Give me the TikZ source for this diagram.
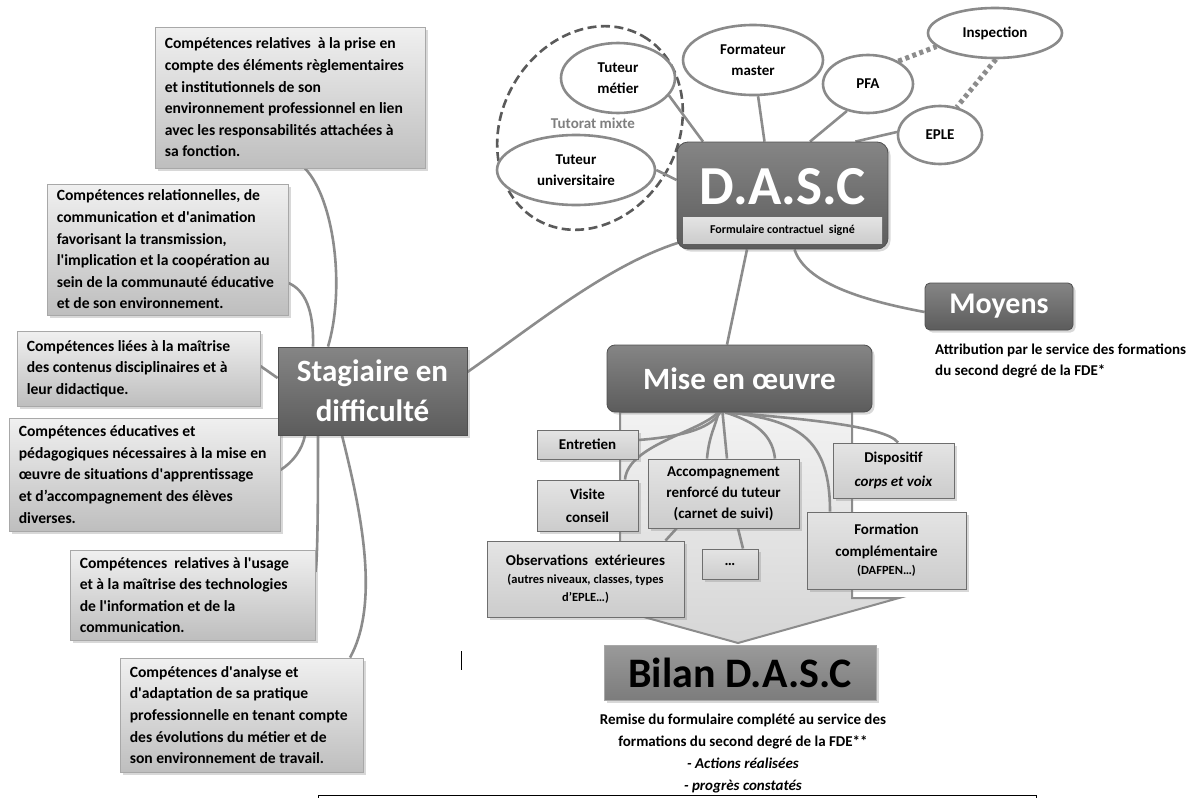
\documentclass[tikz,border=0pt]{standalone}
\usepackage{fontspec}
\setmainfont{Carlito}
\usetikzlibrary{shapes.geometric,shadows}
\definecolor{lnc}{HTML}{8C8C8C}
\definecolor{elc}{HTML}{8A8A8A}
\definecolor{ltop}{HTML}{F0F0F0}
\definecolor{lbot}{HTML}{BEBEBE}
\definecolor{boxb}{HTML}{A8A8A8}
\definecolor{dtop}{HTML}{858585}
\definecolor{dbot}{HTML}{5C5C5C}
\definecolor{dbd}{HTML}{505050}
\definecolor{stop}{HTML}{E4E4E4}
\definecolor{sbot}{HTML}{CCCCCC}
\definecolor{sbd}{HTML}{6E6E6E}
\definecolor{atop}{HTML}{F2F2F2}
\definecolor{abot}{HTML}{D6D6D6}
\definecolor{tmx}{HTML}{7F7F7F}
\definecolor{btop}{HTML}{9A9A9A}
\definecolor{bbot}{HTML}{7C7C7C}
\definecolor{dsh}{HTML}{5A5A5A}
\newcommand{\ftx}{\bfseries\fontsize{15}{21.5}\selectfont}
\newcommand{\flb}{\bfseries\fontsize{15.6}{21.6}\selectfont}
\newcommand{\fsm}{\bfseries\fontsize{12.5}{17}\selectfont}
\pgfdeclarelayer{back}
\pgfdeclarelayer{bg}
\pgfsetlayers{back,bg,main}
\tikzset{
 conn/.style={draw=lnc, line width=2.6pt},
 dotc/.style={draw=lnc, line width=5pt, dash pattern=on 4pt off 3.5pt},
 shad/.style={drop shadow={shadow xshift=2.5pt,shadow yshift=-2.5pt,opacity=0.3}},
 lbox/.style={shad, draw=boxb, line width=0.8pt, top color=ltop, bottom color=lbot, inner sep=0pt},
 lbtext/.style={align=left, inner sep=0pt, font=\flb, text=black, anchor=west},
 sbox/.style={shad, draw=sbd, line width=0.9pt, top color=stop, bottom color=sbot, align=center, inner sep=0pt, font=\ftx},
 ell/.style={ellipse, draw=elc, line width=2.6pt, fill=white, inner sep=0pt, align=center, font=\ftx},
 dbox/.style={shad, draw=dbd, line width=0.8pt, top color=dtop, bottom color=dbot, text=white, align=center, inner sep=0pt},
}
\newcommand{\lbx}[6]{%
 \node[lbox, minimum width=#4pt, minimum height=#5pt] (#1) at (#2,#3) {};
 \node[lbtext] (#1t) at ([xshift=10pt]#1.west) {#6};}
\begin{document}
\begin{tikzpicture}[x=1pt,y=-1pt]
\useasboundingbox (0,0) rectangle (1192,798);

% left competence boxes
\lbx{c1}{290}{97.5}{270}{141}{Compétences relatives\ \ à la prise en\\ compte des éléments règlementaires\\ et institutionnels de son\\ environnement professionnel en lien\\ avec les responsabilités attachées à\\ sa fonction.}
\lbx{c2}{167.5}{249.5}{241}{131}{Compétences relationnelles, de\\ communication et d\textquotesingle animation\\ favorisant la transmission,\\ l\textquotesingle implication et la coopération au\\ sein de la communauté éducative\\ et de son environnement.}
\lbx{c3}{138.5}{368.5}{243}{75}{Compétences liées à la maîtrise\\ des contenus disciplinaires et à\\ leur didactique.}
\lbx{c4}{144.5}{474.5}{271}{113}{Compétences éducatives et\\ pédagogiques nécessaires à la mise en\\ œuvre de situations d\textquotesingle apprentissage\\ et d’accompagnement des élèves\\ diverses.}
\lbx{c5}{192.5}{595}{245}{90}{Compétences\ \ relatives à l\textquotesingle usage\\ et à la maîtrise des technologies\\ de l\textquotesingle information et de la\\ communication.}
\lbx{c6}{241.5}{715}{243}{114}{Compétences d\textquotesingle analyse et\\ d\textquotesingle adaptation de sa pratique\\ professionnelle en tenant compte\\ des évolutions du métier et de\\ son environnement de travail.}

% central dark boxes
\node[dbox, minimum width=189pt, minimum height=88pt, font=\bfseries\fontsize{31}{40}\selectfont] (st) at (372.5,391) {Stagiaire en\\ difficulté};
\node[dbox, rounded corners=11pt, minimum width=211pt, minimum height=107pt] (dasc) at (782.5,195.5) {};
\node[text=white, inner sep=0pt, font=\bfseries\fontsize{55}{60}\selectfont] (dasct) at (782.5,187) {D.A.S.C};
\node[top color=stop, bottom color=sbot, minimum width=199pt, minimum height=26pt, inner sep=0pt, font=\bfseries\fontsize{12}{14}\selectfont] (dascb) at (782.5,230) {Formulaire contractuel\ \ signé};
\node[dbox, rounded corners=8pt, minimum width=265pt, minimum height=67pt, font=\bfseries\fontsize{31}{36}\selectfont] (mise) at (739.5,378.5) {Mise en œuvre};
\node[dbox, rounded corners=5pt, minimum width=148pt, minimum height=47pt, font=\bfseries\fontsize{30}{34}\selectfont] (moy) at (999,306.5) {Moyens};
\node[align=left, inner sep=0pt, font=\ftx, anchor=west] (moyt) at (935,361) {Attribution par le service des formations\\ du second degré de la FDE*};
\node[shad, draw=boxb, line width=0.8pt, top color=btop, bottom color=bbot, minimum width=272pt, minimum height=55pt, inner sep=0pt, font=\bfseries\fontsize{42}{46}\selectfont] (bilan) at (740,672.5) {Bilan D.A.S.C};
\node[align=center, inner sep=0pt, font=\bfseries\fontsize{15}{21.7}\selectfont] (bilt) at (743,753.5) {Remise du formulaire complété au service des\\ formations du second degré de la FDE**\\ \textit{- Actions réalisées}\\ \textit{- progrès constatés}};

% ellipses
\node[ell, minimum width=114pt, minimum height=70pt] (tm) at (618,78) {Tuteur\\ métier};
\node[ell, minimum width=158pt, minimum height=70pt] (tu) at (576,170) {Tuteur\\ universitaire};
\node[ell, minimum width=140pt, minimum height=70pt] (fm) at (753,60) {Formateur\\ master};
\node[ell, minimum width=90pt, minimum height=58pt] (pfa) at (868,84) {PFA};
\node[ell, minimum width=134pt, minimum height=50pt] (insp) at (995,33) {Inspection};
\node[ell, minimum width=84pt, minimum height=58pt] (eple) at (940,135) {EPLE};
\node[text=tmx, inner sep=0pt, font=\ftx] (tmix) at (593,123) {Tutorat mixte};

% sub boxes of Mise en oeuvre
\node[sbox, minimum width=101pt, minimum height=29pt] (ent) at (587.5,444.5) {Entretien};
\node[sbox, minimum width=101pt, minimum height=51pt, font=\bfseries\fontsize{15}{23}\selectfont] (vis) at (587.5,505.5) {Visite\\ conseil};
\node[sbox, minimum width=151pt, minimum height=69pt, font=\bfseries\fontsize{15}{21}\selectfont] (acc) at (723.5,493.5) {Accompagnement\\ renforcé du tuteur\\ (carnet de suivi)};
\node[sbox, minimum width=121pt, minimum height=55pt, font=\bfseries\fontsize{15}{24}\selectfont] (dis) at (893.5,470.5) {Dispositif\\ \textit{corps et voix}};
\node[sbox, minimum width=159pt, minimum height=77pt] (form) at (886.5,550.5) {Formation\\ complémentaire\\[-3pt] {\fsm (DAFPEN…)}};
\node[sbox, minimum width=197pt, minimum height=76pt] (obs) at (585.5,579) {Observations\ \ extérieures\\[-3pt] {\fsm (autres niveaux, classes, types}\\[-4pt] {\fsm d’EPLE…)}};
\node[sbox, minimum width=56pt, minimum height=30pt] (dots) at (730,564) {…};

% arrow behind
\begin{pgfonlayer}{back}
\fill[white] (0,0) rectangle (1192,798);
\draw[draw=lnc, line width=2pt, top color=atop, bottom color=abot] (620,412) -- (620,598) -- (575,598) -- (738,643) -- (899,598) -- (852,598) -- (852,412) -- cycle;
\end{pgfonlayer}

\begin{pgfonlayer}{bg}
\draw[draw=dsh, line width=2.6pt, dash pattern=on 9pt off 4.5pt, rotate around={60:(590,128)}] (590,128) ellipse [x radius=106, y radius=88];
% around D.A.S.C
\draw[conn] (tm.-19) -- ([xshift=-79.5pt]dasc.north);
\draw[conn] (fm.-82) -- ([xshift=-18pt]dasc.north);
\draw[conn] (pfa.-128) -- ([xshift=27.5pt]dasc.north);
\draw[conn] (eple.176) -- ([xshift=-33pt]dasc.north east);
\draw[conn] (tu.east) -- ([yshift=15.5pt]dasc.west);
\draw[dotc] (pfa.37) -- (insp.-167);
\draw[dotc] (insp.-88) -- (eple.59);
\draw[conn] ([xshift=6pt,yshift=8pt]dasc.south west) .. controls (610,263) and (535,325) .. ([yshift=19pt]st.east);
\draw[conn] ([xshift=-35.5pt]dasc.south) -- ([xshift=-12.5pt]mise.north);
\draw[conn] ([xshift=12pt]dasc.south) .. controls (805,282) and (860,300) .. ([yshift=-5.5pt]moy.west);
% around Stagiaire
\draw[conn] ([xshift=15pt]c1.south) .. controls (335,200) and (345,290) .. ([xshift=-44.5pt]st.north);
\draw[conn] ([yshift=-33.5pt]c2.east) .. controls (305,290) and (314,310) .. ([xshift=-59.5pt]st.north);
\draw[conn] ([yshift=2.5pt]c3.east) -- ([yshift=13pt]st.west);
\draw[conn] ([yshift=4.5pt]c4.east) .. controls (293,462) and (302,450) .. ([xshift=-67.5pt]st.south);
\draw[conn] ([yshift=23pt]c5.east) .. controls (318,560) and (318,480) .. ([xshift=-54.5pt]st.south);
\draw[conn] ([xshift=108.5pt]c6.north) .. controls (382,600) and (358,500) .. ([xshift=-30.5pt]st.south);
% around Mise en oeuvre
\draw[conn] ([yshift=4.5pt]ent.east) .. controls (690,436) and (712,426) .. ([xshift=-19.5pt]mise.south);
\draw[conn] ([xshift=37.5pt]vis.north) .. controls (628,445) and (700,432) .. ([xshift=-21.5pt]mise.south);
\draw[conn] ([xshift=-16.5pt]acc.north) .. controls (709,435) and (716,425) .. ([xshift=-21pt]mise.south);
\draw[conn] ([xshift=3.5pt]acc.north) -- ([xshift=-17pt]mise.south);
\draw[conn] ([xshift=51.5pt]acc.north) .. controls (772,430) and (748,420) .. ([xshift=-14pt]mise.south);
\draw[conn] ([xshift=4.5pt]dis.north) .. controls (885,425) and (790,418) .. ([xshift=-11pt]mise.south);
\draw[conn] ([xshift=-56.5pt]form.north) .. controls (830,440) and (800,420) .. ([xshift=-12pt]mise.south);
\draw[conn] ([xshift=80pt]obs.north) -- ([xshift=29pt]acc.south west);
\draw[conn] ([xshift=13pt]dots.north) -- ([xshift=14.5pt]acc.south);
\end{pgfonlayer}

% cursor mark and bottom frame
\draw[black, line width=0.9pt] (461,651) -- (461,670);
\draw[black, line width=0.9pt] (318,795) rectangle (1036,830);
\end{tikzpicture}
\end{document}
